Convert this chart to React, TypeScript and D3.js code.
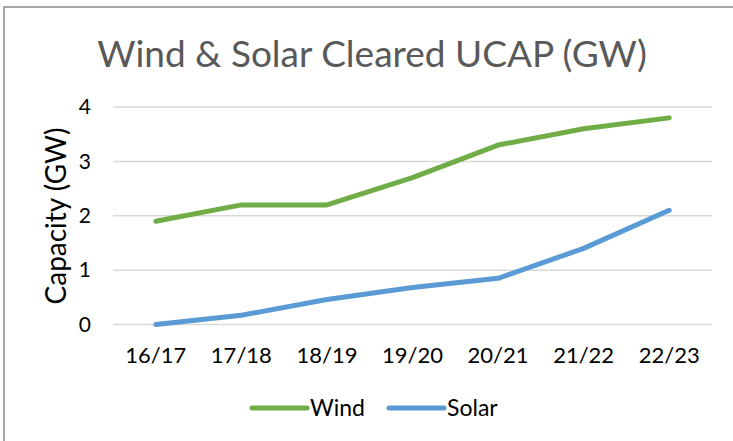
import * as d3 from 'd3'

const categories = ['16/17', '17/18', '18/19', '19/20', '20/21', '21/22', '22/23']
const windValues = [1.9, 2.2, 2.2, 2.7, 3.3, 3.6, 3.8]
const solarValues = [0, 0.17, 0.46, 0.68, 0.85, 1.4, 2.1]
const yTicks = [0, 1, 2, 3, 4]

const series = [
  { name: 'Wind', values: windValues, color: '#70AD47' },
  { name: 'Solar', values: solarValues, color: '#5B9BD5' },
]

const width = 733
const height = 441
const font = 'Lato, sans-serif'

export default function App() {
  const left = 113
  const right = 712
  const top = 107
  const bottom = 324.5

  const x = d3.scaleBand().domain(categories).range([left, right])
  const y = d3.scaleLinear().domain([0, 4]).range([bottom, top])

  const line = d3.line<number>()
    .x((_, i) => (x(categories[i]) ?? 0) + x.bandwidth() / 2)
    .y(d => y(d))

  // legend item positions (line start)
  const legendX = [252, 389]

  return (
    <svg width={width} height={height} style={{ position: 'absolute', left: 0, top: 0 }}>
      <rect x={0} y={0} width={width} height={height} fill="#fff" />
      <rect x={4} y={7} width={width + 10} height={height} fill="none" stroke="#8c8c8c" strokeWidth={1.5} />

      <text x={372} y={67} textAnchor="middle" fontFamily={font} fontSize={37} fill="#595959">
        Wind &amp; Solar Cleared UCAP (GW)
      </text>

      {/* gridlines */}
      {yTicks.map(t => (
        <line key={t} x1={left} x2={right} y1={y(t)} y2={y(t)} stroke="#d9d9d9" strokeWidth={1.5} />
      ))}

      {/* y tick labels */}
      {yTicks.map(t => (
        <text key={t} x={91} y={y(t)} dy="0.35em" textAnchor="end" fontFamily={font} fontSize={21} fill="#000">
          {t}
        </text>
      ))}

      {/* x tick labels */}
      {categories.map(c => (
        <text key={c} x={(x(c) ?? 0) + x.bandwidth() / 2} y={363} textAnchor="middle" fontFamily={font} fontSize={22} fill="#000">
          {c}
        </text>
      ))}

      <text transform={`translate(66,216) rotate(-90)`} textAnchor="middle" fontFamily={font} fontSize={28} fill="#000">
        Capacity (GW)
      </text>

      {series.map(s => (
        <path key={s.name} d={line(s.values) ?? ''} fill="none" stroke={s.color} strokeWidth={5} strokeLinecap="round" strokeLinejoin="round" />
      ))}

      {/* legend */}
      {series.map((s, i) => (
        <g key={s.name}>
          <line x1={legendX[i]} x2={legendX[i] + 55} y1={408} y2={408} stroke={s.color} strokeWidth={5} strokeLinecap="round" />
          <text x={legendX[i] + 58} y={408} dy="0.36em" fontFamily={font} fontSize={23} fill="#000">
            {s.name}
          </text>
        </g>
      ))}
    </svg>
  )
}
